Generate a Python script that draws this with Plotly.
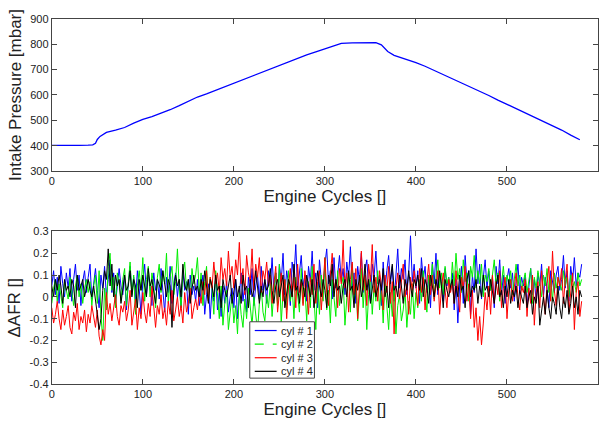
import plotly.graph_objects as go

# ---------------- data ----------------
press_x = [0, 10, 20, 30, 40, 45, 48, 50, 53, 57, 60, 70, 80, 90, 100, 110, 120, 130, 140, 150,
           160, 170, 180, 190, 200, 210, 220, 230, 240, 250, 260, 270, 280, 290, 300, 310, 318,
           330, 340, 350, 356, 362, 369, 376, 383, 390, 400, 410, 420, 430, 440, 450, 460, 470,
           480, 490, 500, 510, 520, 530, 540, 550, 560, 570, 580]
press_y = [402, 403, 402, 402, 403, 404, 410, 425, 437, 445, 453, 462, 472, 489, 504, 515, 528, 542, 558, 575,
           592, 604, 618, 633, 648, 660, 675, 690, 702, 718, 730, 745, 758, 770, 782, 793, 803,
           805, 805, 806, 806, 797, 771, 756, 748, 740, 727, 713, 697, 681, 664, 648, 632, 617,
           598, 580, 563, 547, 530, 513, 497, 478, 462, 442, 424]

afr_x = list(range(0, 584, 2))
cyl1 = [0.05, 0.12, 0.01, 0.09, -0.03, 0.14, 0.06, 0.00, 0.11, 0.04, 0.13, -0.02, 0.08, 0.15, 0.03, 0.10, -0.04, 0.07, 0.12, 0.02,
        0.09, 0.15, -0.01, 0.06, 0.13, 0.03, -0.05, 0.10, 0.04, 0.14, 0.00, 0.08, 0.17, 0.02, 0.11, -0.03, 0.07, 0.13, 0.05, 0.01,
        0.10, -0.06, 0.06, 0.14, 0.02, 0.09, -0.02, 0.12, 0.04, -0.08, 0.07, 0.15, 0.01, 0.10, 0.05, -0.04, 0.11, 0.03, 0.08, -0.01,
        0.13, 0.04, -0.07, 0.09, 0.02, 0.14, -0.03, 0.06, 0.11, 0.00, 0.08, -0.05, 0.12, 0.03, 0.07, -0.08, 0.10, 0.01, 0.05, -0.02,
        0.08, -0.04, 0.03, 0.10, -0.08, 0.01, 0.06, -0.10, 0.04, -0.02, 0.09, -0.06, 0.02, -0.09, 0.05, -0.03, 0.07, -0.07, 0.00, 0.04,
        -0.05, 0.08, -0.10, 0.03, 0.11, -0.02, 0.06, -0.07, 0.09, 0.01, 0.13, -0.04, 0.05, 0.10, -0.01, 0.14, 0.03, 0.08, -0.03, 0.12,
        0.05, 0.18, 0.02, 0.11, -0.03, 0.15, 0.07, 0.20, 0.01, 0.12, 0.06, -0.04, 0.16, 0.09, 0.24, 0.03, 0.13, 0.19, 0.05, 0.10,
        -0.02, 0.14, 0.07, 0.21, 0.03, 0.11, -0.05, 0.17, 0.08, 0.02, 0.15, 0.22, 0.06, 0.12, -0.01, 0.18, 0.04, 0.10, 0.19, 0.07,
        0.13, 0.01, 0.16, 0.09, 0.23, 0.04, 0.11, -0.03, 0.14, 0.07, 0.20, 0.02, 0.12, 0.17, 0.05, -0.02, 0.15, 0.09, 0.21, 0.06,
        0.10, -0.04, 0.16, 0.03, 0.12, 0.19, 0.06, 0.14, -0.02, 0.09, 0.22, 0.04, 0.13, 0.08, 0.17, 0.01, 0.11, 0.28, 0.07, 0.15,
        0.04, 0.12, -0.03, 0.18, 0.08, 0.14, 0.02, 0.10, -0.05, 0.16, 0.06, 0.20, 0.01, 0.11, 0.07, -0.02, 0.13, 0.05, 0.09, 0.03,
        0.11, -0.06, 0.08, -0.12, 0.05, 0.14, -0.03, 0.19, 0.07, 0.12, -0.08, 0.10, 0.02, 0.22, 0.06, 0.15, -0.01, 0.09, 0.17, 0.04,
        0.12, 0.03, 0.09, -0.05, 0.14, 0.06, 0.17, 0.01, 0.10, -0.03, 0.08, 0.13, 0.04, 0.11, -0.02, 0.07, 0.15, 0.02, 0.09, 0.05,
        0.10, -0.04, 0.06, 0.13, 0.01, 0.08, -0.02, 0.11, 0.05, 0.15, 0.00, 0.09, 0.04, -0.05, 0.12, 0.06, 0.02, 0.10, 0.14, 0.03,
        0.08, 0.19, 0.04, 0.12, -0.02, 0.14, 0.07, 0.18, 0.05, 0.11, 0.09, 0.15]
cyl2 = [-0.03, 0.04, 0.08, -0.02, 0.06, 0.01, -0.05, 0.07, 0.03, -0.01, 0.09, 0.02, -0.04, 0.05, 0.10, 0.00, 0.06, -0.03, 0.04, 0.08,
        0.02, 0.07, -0.04, 0.05, 0.10, -0.03, 0.12, -0.08, -0.20, 0.04, -0.06, 0.14, 0.20, 0.03, 0.09, -0.05, 0.11, 0.06, -0.02, 0.08,
        0.13, -0.04, 0.07, 0.16, 0.01, 0.10, -0.08, 0.05, 0.12, 0.03, 0.18, -0.02, 0.08, 0.14, 0.00, 0.11, 0.05, -0.05, 0.09, 0.15,
        0.02, 0.12, 0.06, 0.20, -0.03, 0.09, 0.14, 0.01, 0.07, 0.22, 0.04, -0.05, 0.11, 0.16, 0.03, 0.08, -0.02, 0.13, 0.06, 0.10,
        0.18, 0.02, 0.11, -0.04, 0.07, 0.14, -0.02, 0.09, 0.04, -0.08, 0.12, 0.00, -0.10, 0.05, -0.13, -0.03, 0.03, -0.15, -0.06, 0.01,
        -0.12, -0.04, -0.17, 0.02, -0.08, -0.14, -0.01, -0.10, 0.04, -0.06, -0.13, 0.00, -0.09, -0.16, -0.03, 0.05, -0.07, -0.11, 0.01, -0.05,
        0.06, -0.09, 0.03, 0.11, -0.04, 0.15, -0.12, 0.02, 0.08, -0.06, 0.12, -0.02, 0.05, -0.10, 0.09, 0.00, -0.07, 0.13, -0.03, 0.04,
        -0.11, 0.07, -0.05, 0.14, 0.01, -0.15, 0.06, -0.08, 0.10, -0.02, 0.18, -0.06, 0.03, -0.12, 0.08, 0.00, -0.09, 0.12, -0.04, 0.05,
        0.09, -0.13, 0.02, 0.11, -0.07, 0.15, -0.03, 0.06, -0.11, 0.04, 0.13, -0.05, 0.08, -0.15, 0.01, 0.10, -0.08, 0.05, -0.02, 0.12,
        -0.06, 0.04, -0.12, 0.07, -0.03, -0.15, 0.02, -0.09, 0.05, -0.17, -0.04, 0.01, -0.11, -0.06, 0.03, -0.14, -0.02, -0.08, 0.06, -0.10,
        0.02, -0.05, 0.08, -0.02, 0.12, 0.03, -0.07, 0.10, 0.05, 0.15, -0.01, 0.09, 0.17, 0.04, 0.11, 0.01, 0.14, 0.06, 0.09, 0.03,
        0.16, 0.05, 0.20, 0.08, 0.13, 0.02, 0.17, 0.07, 0.11, -0.02, 0.14, 0.09, 0.19, 0.04, 0.12, 0.06, 0.15, 0.00, 0.10, 0.07,
        0.13, 0.03, 0.09, 0.17, 0.05, 0.11, -0.02, 0.08, 0.14, 0.04, 0.10, 0.06, 0.12, 0.01, 0.09, 0.15, 0.05, 0.10, 0.03, 0.08,
        0.11, 0.02, 0.07, 0.13, -0.03, 0.09, 0.04, 0.12, 0.06, 0.00, 0.10, 0.05, 0.13, 0.02, 0.08, -0.02, 0.11, 0.04, 0.09, 0.06,
        0.03, 0.12, 0.05, 0.09, 0.00, 0.10, 0.04, 0.07, 0.02, 0.11, 0.05, 0.08]
cyl3 = [-0.05, -0.12, -0.08, -0.02, -0.10, -0.15, -0.06, -0.13, -0.09, -0.04, -0.14, -0.17, -0.07, -0.11, -0.03, -0.15, -0.09, -0.12, -0.06, -0.16,
        -0.08, -0.12, -0.04, -0.10, -0.14, -0.06, -0.18, -0.22, -0.15, -0.20, 0.02, -0.08, -0.03, -0.11, -0.05, 0.01, -0.09, -0.13, -0.04, -0.07,
        -0.02, -0.11, -0.06, 0.03, -0.13, -0.08, -0.01, -0.15, -0.05, -0.10, 0.02, -0.07, -0.12, -0.03, -0.09, 0.05, -0.06, -0.14, -0.04, -0.08,
        0.01, -0.10, -0.05, -0.13, -0.02, -0.08, 0.03, -0.11, -0.06, 0.00, -0.09, -0.04, -0.12, 0.02, -0.07, -0.03, 0.04, -0.10, -0.05, -0.01,
        -0.06, 0.02, -0.03, 0.07, 0.01, 0.12, -0.02, 0.09, 0.04, 0.16, 0.06, 0.11, 0.02, 0.18, 0.08, 0.13, 0.05, 0.21, 0.09, 0.14,
        0.04, 0.17, 0.10, 0.25, 0.06, 0.13, 0.01, 0.19, 0.11, 0.07, 0.22, 0.03, 0.15, 0.09, 0.18, 0.02, 0.12, 0.08, 0.16, 0.05,
        0.10, -0.03, 0.06, 0.14, -0.07, 0.03, 0.11, -0.02, 0.08, -0.10, 0.05, 0.13, 0.00, 0.09, -0.05, 0.15, 0.02, 0.07, -0.04, 0.12,
        0.04, -0.08, 0.09, 0.01, 0.15, -0.03, 0.07, 0.12, -0.06, 0.05, 0.18, 0.02, -0.04, 0.10, 0.20, 0.03, 0.08, -0.05, 0.13, 0.06,
        0.26, 0.04, 0.11, -0.07, 0.08, 0.16, 0.01, 0.13, -0.10, 0.06, 0.21, 0.03, 0.10, -0.04, 0.15, 0.07, 0.24, 0.02, 0.09, -0.02,
        0.12, 0.05, -0.06, 0.10, 0.02, 0.14, -0.03, 0.07, -0.17, 0.04, 0.11, -0.01, 0.08, 0.15, 0.00, 0.06, -0.08, 0.09, 0.03, 0.12,
        0.05, -0.04, 0.13, 0.02, 0.09, -0.06, 0.07, 0.15, 0.01, 0.10, -0.02, 0.06, 0.12, -0.08, 0.04, 0.11, 0.03, -0.05, 0.08, 0.02,
        0.07, -0.03, 0.12, 0.01, -0.07, 0.09, 0.04, 0.14, -0.02, 0.06, -0.10, 0.03, -0.14, -0.05, -0.20, -0.09, -0.22, -0.12, 0.02, -0.06,
        0.05, -0.08, 0.10, -0.03, 0.07, 0.01, 0.12, -0.05, 0.04, 0.09, -0.10, 0.03, 0.08, -0.02, 0.06, 0.11, 0.00, -0.06, 0.05, 0.02,
        0.08, -0.09, 0.04, -0.03, 0.10, -0.13, 0.02, 0.07, -0.05, 0.12, 0.01, -0.08, 0.06, 0.14, -0.02, 0.21, 0.03, -0.04, 0.09, 0.05,
        0.13, -0.03, 0.08, 0.15, -0.07, 0.04, 0.11, -0.15, 0.02, 0.07, -0.09, -0.02]
cyl4 = [0.05, 0.00, 0.08, 0.03, 0.10, 0.05, -0.03, 0.08, 0.03, 0.05, 0.00, 0.08, 0.05, -0.05, 0.10, 0.03, 0.05, 0.08, 0.00, 0.05,
        0.08, 0.03, 0.00, 0.05, -0.03, -0.08, -0.15, -0.10, 0.03, 0.12, 0.08, 0.22, 0.05, 0.15, 0.00, 0.10, 0.05, 0.08, -0.03, 0.05,
        0.10, 0.03, 0.05, 0.12, 0.00, 0.08, 0.05, -0.05, 0.08, 0.03, 0.10, 0.05, 0.00, 0.13, 0.05, 0.08, 0.03, -0.03, 0.08, 0.05,
        0.03, 0.12, 0.05, 0.00, 0.08, 0.05, -0.14, 0.03, 0.10, 0.05, 0.08, 0.00, 0.15, 0.05, 0.03, 0.08, -0.03, 0.05, 0.10, 0.03,
        0.05, 0.00, 0.08, 0.03, 0.12, 0.05, -0.03, 0.08, 0.05, 0.00, 0.10, 0.03, 0.05, -0.05, 0.08, 0.03, 0.00, 0.05, 0.10, -0.03,
        0.03, 0.08, 0.00, 0.05, -0.03, 0.10, 0.03, 0.05, -0.05, 0.08, 0.00, 0.03, 0.12, 0.05, -0.03, 0.05, 0.00, 0.08, 0.03, 0.05,
        0.13, 0.03, -0.03, 0.05, 0.08, 0.00, 0.05, 0.10, -0.05, 0.03, 0.08, 0.05, 0.00, 0.15, 0.03, 0.05, -0.03, 0.08, 0.05, 0.00,
        0.10, 0.05, 0.00, 0.08, -0.05, 0.03, 0.12, 0.05, 0.00, 0.08, 0.03, -0.05, 0.10, 0.05, 0.15, 0.00, 0.08, 0.03, 0.05, -0.03,
        0.05, 0.08, 0.00, 0.12, 0.03, 0.05, -0.05, 0.08, 0.03, 0.10, 0.00, 0.05, 0.15, 0.03, 0.08, -0.03, 0.05, 0.10, 0.00, 0.05,
        0.08, 0.03, 0.13, 0.00, 0.05, -0.05, 0.08, 0.15, 0.03, 0.05, 0.00, 0.10, 0.05, -0.03, 0.08, 0.03, 0.12, 0.05, 0.00, 0.08,
        0.05, 0.10, 0.03, 0.13, 0.00, 0.08, 0.05, -0.03, 0.10, 0.05, 0.00, 0.08, 0.03, 0.12, 0.05, -0.05, 0.08, 0.03, 0.00, 0.05,
        0.08, -0.03, 0.05, 0.00, 0.10, 0.03, 0.05, -0.05, 0.08, 0.12, 0.00, 0.05, 0.03, 0.08, -0.03, 0.05, 0.00, 0.10, 0.03, 0.05,
        0.00, 0.08, 0.03, -0.03, 0.05, 0.10, 0.00, 0.03, -0.05, 0.05, 0.00, 0.08, -0.03, 0.03, 0.00, 0.05, -0.05, 0.03, 0.00, -0.03,
        0.05, -0.05, 0.00, 0.03, -0.08, 0.00, -0.03, 0.05, -0.13, -0.05, 0.00, -0.08, 0.03, -0.05, -0.10, 0.00, -0.03, -0.08, 0.05, -0.05,
        -0.10, 0.00, -0.05, 0.03, -0.08, -0.03, 0.05, -0.05, 0.00, -0.08, 0.03, 0.00]

cyl_names = ["cyl # 1", "cyl # 2", "cyl # 3", "cyl # 4"]

x_ticks = [0, 100, 200, 300, 400, 500, 600]
p_ticks = [300, 400, 500, 600, 700, 800, 900]
afr_ticks = [-0.4, -0.3, -0.2, -0.1, 0, 0.1, 0.2, 0.3]
afr_ticktext = ["-0.4", "-0.3", "-0.2", "-0.1", "0", "0.1", "0.2", "0.3"]

# ---------------- figure ----------------
W, H = 606, 423
fig = go.Figure()
fig.add_trace(go.Scatter(x=press_x, y=press_y, mode="lines",
                         line=dict(color="#0000ff", width=1.3),
                         showlegend=False, xaxis="x", yaxis="y"))

colors = ["#0000ff", "#00ee00", "#ff0000", "#000000"]
legend_dash = ["solid", "dash", "solid", "solid"]
for name, vals, c in zip(cyl_names, [cyl1, cyl2, cyl3, cyl4], colors):
    fig.add_trace(go.Scatter(x=afr_x, y=vals, mode="lines", name=name,
                             line=dict(color=c, width=1),
                             showlegend=False, xaxis="x2", yaxis="y2"))

font = "Liberation Sans, Arial, sans-serif"
axcommon = dict(showline=True, mirror="ticks", linecolor="#444444", linewidth=1,
                ticks="inside", ticklen=5, tickcolor="#444444", showgrid=False,
                zeroline=False, tickfont=dict(size=11, color="#222222", family=font))

# manual legend box (MATLAB style, compact rows)
def px(x):
    return x / W

def py(y):
    return 1 - y / H

shapes = [dict(type="rect", xref="paper", yref="paper",
               x0=px(248), x1=px(313), y0=py(383), y1=py(325),
               line=dict(color="#444444", width=1), fillcolor="white", layer="above")]
annotations = []
row_y = [334, 348, 362, 376]
for name, c, d, ry in zip(cyl_names, colors, legend_dash, row_y):
    shapes.append(dict(type="line", xref="paper", yref="paper",
                       x0=px(253), x1=px(275), y0=py(ry), y1=py(ry),
                       line=dict(color=c, width=1.2, dash=d), layer="above"))
    annotations.append(dict(text=name, xref="paper", yref="paper", x=px(277), y=py(ry),
                            xanchor="left", yanchor="middle", showarrow=False,
                            font=dict(size=11, family=font, color="#222222")))

fig.update_layout(
    width=W, height=H,
    margin=dict(l=0, r=0, t=0, b=0),
    paper_bgcolor="white", plot_bgcolor="white",
    font=dict(family=font, color="#222222"),
    showlegend=False,
    xaxis=dict(domain=[0.0809, 0.9868], range=[0, 600], tickvals=x_ticks, anchor="y",
               title=dict(text="Engine Cycles []", font=dict(size=17), standoff=0), **axcommon),
    yaxis=dict(domain=[0.598, 0.969], range=[300, 900], tickvals=p_ticks, anchor="x",
               title=dict(text="Intake Pressure [mbar]", font=dict(size=17), standoff=4), **axcommon),
    xaxis2=dict(domain=[0.0809, 0.9868], range=[0, 600], tickvals=x_ticks, anchor="y2",
                title=dict(text="Engine Cycles []", font=dict(size=17), standoff=2), **axcommon),
    yaxis2=dict(domain=[0.080, 0.4515], range=[-0.4, 0.3], tickvals=afr_ticks, ticktext=afr_ticktext,
                anchor="x2",
                title=dict(text="ΔAFR []", font=dict(size=17), standoff=4), **axcommon),
    shapes=shapes,
    annotations=annotations,
)

fig.write_html("out.html")
